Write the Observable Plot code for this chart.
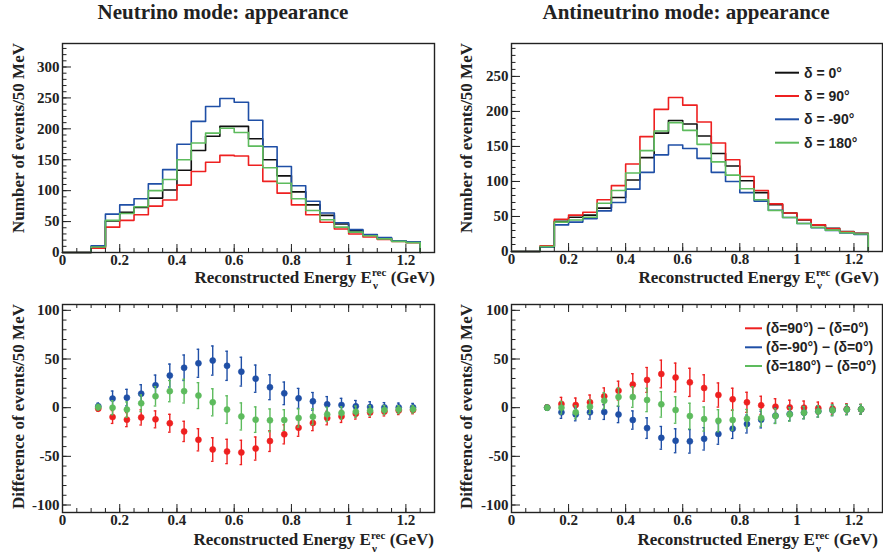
<!DOCTYPE html>
<html><head><meta charset="utf-8">
<script src="https://cdn.jsdelivr.net/npm/d3@7"></script>
<script src="https://cdn.jsdelivr.net/npm/@observablehq/plot@0.6"></script>
<style>
html,body{margin:0;padding:0;background:#fff;}
#wrap{position:relative;width:883px;height:559px;overflow:hidden;background:#fff;}
.panel{position:absolute;}
.panel svg text{font-family:'Liberation Serif','Times New Roman',serif !important;font-weight:bold;font-size:15px;}
#ann{position:absolute;left:0;top:0;pointer-events:none;}
</style></head><body>
<div id="wrap">
  <div class="panel" id="tl" style="left:0;top:0"></div>
  <div class="panel" id="tr" style="left:440px;top:0"></div>
  <div class="panel" id="bl" style="left:0;top:290px"></div>
  <div class="panel" id="br" style="left:440px;top:290px"></div>
  <svg id="ann" width="883" height="559"></svg>
</div>
<script>
// ---------- data ----------
const binLow = [0,0.05,0.1,0.15,0.2,0.25,0.3,0.35,0.4,0.45,0.5,0.55,0.6,0.65,0.7,0.75,0.8,0.85,0.9,0.95,1.0,1.05,1.1,1.15,1.2];
const binHigh = 1.25;
const binCenter = [0.125,0.175,0.225,0.275,0.325,0.375,0.425,0.475,0.525,0.575,0.625,0.675,0.725,0.775,0.825,0.875,0.925,0.975,1.025,1.075,1.125,1.175,1.225];

// Neutrino mode histograms (events / 50 MeV)
const nuDelta0   = [0,0,9,51,65,73,88,101,133,165,188,204,204,184,150,124,98,77,60,46,35,28,23,19,17];
const nuDelta90  = [0,0,7,41,52,61,75,85,109,131,146,157,156,141,115,96,77,61,49,38,30,25,21,18,16];
const nuDeltaM90 = [0,0,11,62,77,87,111,134,175,212,236,249,243,214,171,139,108,83,64,48,37,29,24,19,17.5];
const nuDelta180 = [0,0,9,52,63,74,100,118,150,177,193,201,194,172,137,112,87,68,53,41,33,27,22,18,16];

// Antineutrino mode histograms
const anuDelta0   = [0,0,7,43,49,52,62,77,102,134,169,187,182,165,140,122,101,84,67,55,45,38,33,28.5,26];
const anuDelta90  = [0,0,8,46,52,56,74,94,125,164,203,220,209,185,155,131,107,87,68,55,45.5,38,32.5,28,25.5];
const anuDeltaM90 = [0,0,6,38,42,47,58,70,89,113,138,152,147,133,113,100,84,72,59,48.5,40,34,30,26.5,24.5];
const anuDelta180 = [0,0,7,42,45,49,69,87,112,144,172,184,173,153,128,109,89.5,74,58.5,48.5,40,34.5,30.5,27,25];

// Neutrino mode differences and errors
const nuDiff90   = [-1,-9.6,-12.3,-10,-12,-16,-24.4,-33,-43,-45,-46,-42,-34.3,-27.4,-20.6,-15.8,-10.6,-9,-6.2,-5,-4,-3,-2.4];
const nuErr90    = [2.6,6.6,7.2,7.8,8.7,9.2,10.4,11.4,12.1,12.5,12.5,11.9,10.7,9.8,8.8,7.8,7,6.2,5.5,4.9,4.5,4.1,3.9];
const nuDiffM90  = [1.5,9.3,10.3,14.4,23,33,41,45.6,48.4,43,37,29.8,21,14.7,9.6,6.5,3.4,2.7,1.4,0.7,0.3,0.3,0.3];
const nuErrM90   = [3.2,7.8,8.5,9.2,10.5,11.8,13.1,14.4,15,15,14.8,14,12.8,11.6,10.2,9.1,8,6.9,6,5.4,4.9,4.4,4.1];
const nuDiff180  = [0.5,0,-2,4.5,11.7,17,17,12.4,5.5,-2,-9,-12.3,-13,-12.7,-10.6,-9.3,-6.9,-5.5,-4.1,-3.1,-2.4,-2,-1.7];
const nuErr180   = [2.9,7.2,7.9,8.6,10,10.9,12.2,13.3,13.9,14.2,13.9,13.1,11.7,10.6,9.3,8.2,7.3,6.4,5.7,5.1,4.6,4.1,3.9];

// Antineutrino mode differences and errors
const anuDiff90  = [0.3,3.8,2.7,5.5,11.7,17.5,23.7,28.5,34.6,31,26,20.2,13,8.6,5.5,2.4,1,0.3,0,-0.5,-1,-1.4,-1.7];
const anuErr90   = [2.8,6.8,7.2,7.5,8.6,9.7,11.2,12.8,14.2,14.8,14.5,13.6,12.4,11.4,10.3,9.3,8.2,7.4,6.8,6.2,5.7,5.4,5.1];
const anuDiffM90 = [0,-4.8,-7,-4.8,-4.5,-7,-12.7,-21,-31,-34,-34.6,-32,-27,-21.6,-16.8,-12.3,-8.2,-6.5,-5.1,-3.8,-2.7,-2,-1.7];
const anuErrM90  = [2.4,6.2,6.5,6.9,7.6,8.4,9.4,10.6,11.7,12.3,12.1,11.5,10.6,10,9.2,8.5,7.7,7,6.3,5.8,5.5,5.2,4.9];
const anuDiff180 = [0,0,-4.8,1,7.2,11,11,7.9,3.4,-2.4,-8.6,-11.7,-13.4,-12.7,-11.3,-10.6,-8.6,-6.9,-5.1,-3.8,-2.7,-2,-1.7];
const anuErr180  = [2.6,6.5,6.7,7,8.3,9.3,10.6,12,13.1,13.6,13.2,12.4,11.3,10.4,9.5,8.6,7.7,7,6.3,5.9,5.5,5.2,5];

// tick labels
const xTickLabels = [0,0.2,0.4,0.6,0.8,1,1.2];
const yTickNu = [0,50,100,150,200,250,300];
const yTickAnu = [0,50,100,150,200,250];
const yTickDiff = [-100,-50,0,50,100];

// text
const titles = ["Neutrino mode: appearance","Antineutrino mode: appearance"];
const histLegend = ["δ = 0°","δ = 90°","δ = -90°","δ = 180°"];
const diffLegend = ["(δ=90°) − (δ=0°)","(δ=-90°) − (δ=0°)","(δ=180°) − (δ=0°)"];

// ---------- style ----------
const C = {black:"#111111", red:"#ee2020", blue:"#1f4fa6", green:"#5dbb5d"};
const frameColor = "#222";
const serif = "'Liberation Serif','Times New Roman',serif";
const sans = "'Liberation Sans',Arial,sans-serif";

function ticksMarks(innerW, innerH, ymin, ymax, yMajor, yMinorStep, withTop) {
  const xMinor = d3.range(0, 1.3001, 0.05).map(v => +v.toFixed(2));
  const yMinor = d3.range(Math.ceil(ymin/yMinorStep)*yMinorStep, ymax, yMinorStep);
  const m = [
    Plot.ruleX(xMinor, {x: d=>d, insetTop: innerH-4, stroke: frameColor, strokeWidth: 1}),
    Plot.ruleX(xTickLabels, {x: d=>d, insetTop: innerH-8, stroke: frameColor, strokeWidth: 1}),
    Plot.ruleY(yMinor, {y: d=>d, insetRight: innerW-4.5, stroke: frameColor, strokeWidth: 1}),
    Plot.ruleY(yMajor, {y: d=>d, insetRight: innerW-9, stroke: frameColor, strokeWidth: 1})
  ];
  if (withTop) {
    m.push(Plot.ruleX(xMinor, {x: d=>d, insetBottom: innerH-4, stroke: frameColor, strokeWidth: 1}));
    m.push(Plot.ruleX(xTickLabels, {x: d=>d, insetBottom: innerH-8, stroke: frameColor, strokeWidth: 1}));
  }
  return m;
}

const baseStyle = "font-family: 'Liberation Serif','Times New Roman',serif; font-size: 15px; font-weight: bold; color: #222; background: transparent; overflow: visible;";

function histPanel(el, dims, ymax, yMajor, series) {
  const {width, height, ml, mr, mt, mb} = dims;
  const innerW = width-ml-mr, innerH = height-mt-mb;
  const marks = [];
  for (const s of series) {
    const rows = s.vals.map((v,i) => ({x: binLow[i], y: v}));
    rows.push({x: binHigh, y: 0});
    marks.push(Plot.line(rows, {x:"x", y:"y", curve:"step-after", stroke: s.color, strokeWidth: 1.6}));
  }
  marks.push(...ticksMarks(innerW, innerH, 0, ymax, yMajor, 10, false));
  marks.push(Plot.axisX(xTickLabels, {tickSize: 0, tickPadding: 2, tickFormat: d=>String(d), label: null}));
  marks.push(Plot.axisY(yMajor, {tickSize: 0, tickPadding: 3, tickFormat: d=>String(d), label: null}));
  marks.push(Plot.frame({stroke: frameColor, strokeWidth: 1.4}));
  const p = Plot.plot({width, height, marginLeft: ml, marginRight: mr, marginTop: mt, marginBottom: mb,
    x: {domain:[0,1.3]}, y: {domain:[0,ymax]}, style: baseStyle, marks});
  document.getElementById(el).appendChild(p);
}

function diffPanel(el, dims, series) {
  const {width, height, ml, mr, mt, mb} = dims;
  const innerW = width-ml-mr, innerH = height-mt-mb;
  const ymin = -107.7, ymax = 106;
  const marks = [];
  for (const s of series) {
    const rows = s.diff.map((v,i) => ({x: binCenter[i], y: v, e: s.err[i]}));
    marks.push(Plot.ruleX(rows, {x:"x", y1: d=>d.y-d.e, y2: d=>d.y+d.e, stroke: s.color, strokeWidth: 1.4}));
    marks.push(Plot.ruleY(rows, {y: d=>d.y+d.e, x1: d=>d.x-0.0045, x2: d=>d.x+0.0045, stroke: s.color, strokeWidth: 1.3}));
    marks.push(Plot.ruleY(rows, {y: d=>d.y-d.e, x1: d=>d.x-0.0045, x2: d=>d.x+0.0045, stroke: s.color, strokeWidth: 1.3}));
    marks.push(Plot.dot(rows, {x:"x", y:"y", r: 3, fill: s.color, stroke: s.color, strokeWidth: 0.6}));
  }
  marks.push(...ticksMarks(innerW, innerH, ymin, ymax, yTickDiff, 10, true));
  marks.push(Plot.axisX(xTickLabels, {tickSize: 0, tickPadding: 2, tickFormat: d=>String(d), label: null}));
  marks.push(Plot.axisY(yTickDiff, {tickSize: 0, tickPadding: 3, tickFormat: d=>String(d), label: null}));
  marks.push(Plot.frame({stroke: frameColor, strokeWidth: 1.4}));
  const p = Plot.plot({width, height, marginLeft: ml, marginRight: mr, marginTop: mt, marginBottom: mb,
    x: {domain:[0,1.3]}, y: {domain:[ymin,ymax]}, style: baseStyle, marks});
  document.getElementById(el).appendChild(p);
}

histPanel("tl", {width:440, height:290, ml:62, mr:6, mt:43, mb:38}, 338, yTickNu, [
  {vals: nuDelta0, color: C.black},
  {vals: nuDelta90, color: C.red},
  {vals: nuDeltaM90, color: C.blue},
  {vals: nuDelta180, color: C.green}
]);
histPanel("tr", {width:443, height:290, ml:71, mr:1, mt:43, mb:39}, 297, yTickAnu, [
  {vals: anuDelta0, color: C.black},
  {vals: anuDelta90, color: C.red},
  {vals: anuDeltaM90, color: C.blue},
  {vals: anuDelta180, color: C.green}
]);
diffPanel("bl", {width:440, height:269, ml:62, mr:6, mt:14, mb:47}, [
  {diff: nuDiff90, err: nuErr90, color: C.red},
  {diff: nuDiffM90, err: nuErrM90, color: C.blue},
  {diff: nuDiff180, err: nuErr180, color: C.green}
]);
diffPanel("br", {width:443, height:269, ml:71, mr:1, mt:14, mb:47}, [
  {diff: anuDiff90, err: anuErr90, color: C.red},
  {diff: anuDiffM90, err: anuErrM90, color: C.blue},
  {diff: anuDiff180, err: anuErr180, color: C.green}
]);

// ---------- annotations ----------
const NS = "http://www.w3.org/2000/svg";
const ann = document.getElementById("ann");
function el(tag, attrs, parent) {
  const e = document.createElementNS(NS, tag);
  for (const k in attrs) e.setAttribute(k, attrs[k]);
  (parent || ann).appendChild(e);
  return e;
}
function txt(str, attrs) {
  const t = el("text", Object.assign({fill:"#222", "font-family": serif, "font-weight":"bold"}, attrs));
  t.textContent = str;
  return t;
}
// titles
txt(titles[0], {x: 223, y: 18.5, "font-size": 21, "text-anchor": "middle"});
txt(titles[1], {x: 686, y: 18.5, "font-size": 21, "text-anchor": "middle"});
// y titles
function yTitle(str, x, yTop) {
  txt(str, {transform: `translate(${x},${yTop}) rotate(-90)`, "font-size": 17, "text-anchor": "end"});
}
yTitle("Number of events/50 MeV", 23.5, 43);
yTitle("Number of events/50 MeV", 472, 43);
yTitle("Difference of events/50 MeV", 23.5, 304);
yTitle("Difference of events/50 MeV", 472, 304);
// x titles
function xTitle(xRight, yBase) {
  const main = "Reconstructed Energy E";
  const t = el("text", {x: xRight, y: yBase, "text-anchor": "end", fill: "#222", "font-family": serif, "font-weight": "bold", "font-size": 17});
  t.appendChild(document.createTextNode(main));
  const sup = el("tspan", {dy: -6.5, "font-size": 11}, t); sup.textContent = "rec";
  const rest = el("tspan", {dy: 6.5}, t); rest.textContent = " (GeV)";
  let px = xRight - 70;
  try { px = t.getStartPositionOfChar(main.length).x; } catch (e) {}
  txt("ν", {x: px + 1, y: yBase + 6.5, "font-size": 11});
}
xTitle(435, 282.5);
xTitle(879, 282.5);
xTitle(434, 545);
xTitle(878, 545);
// legend top right
const histColors = [C.black, C.red, C.blue, C.green];
const histRowsY = [72.7, 96, 119.3, 142.7];
histLegend.forEach((s, i) => {
  el("line", {x1: 775, x2: 799, y1: histRowsY[i], y2: histRowsY[i], stroke: histColors[i], "stroke-width": 2});
  txt(s, {x: 804, y: histRowsY[i] + 5, "font-family": sans, "font-size": 14});
});
// legend bottom right
const diffColors = [C.red, C.blue, C.green];
const diffRowsY = [328.3, 347.3, 366];
diffLegend.forEach((s, i) => {
  el("line", {x1: 745, x2: 762, y1: diffRowsY[i], y2: diffRowsY[i], stroke: diffColors[i], "stroke-width": 2});
  txt(s, {x: 766, y: diffRowsY[i] + 5, "font-family": sans, "font-size": 14});
});
</script>
</body></html>
